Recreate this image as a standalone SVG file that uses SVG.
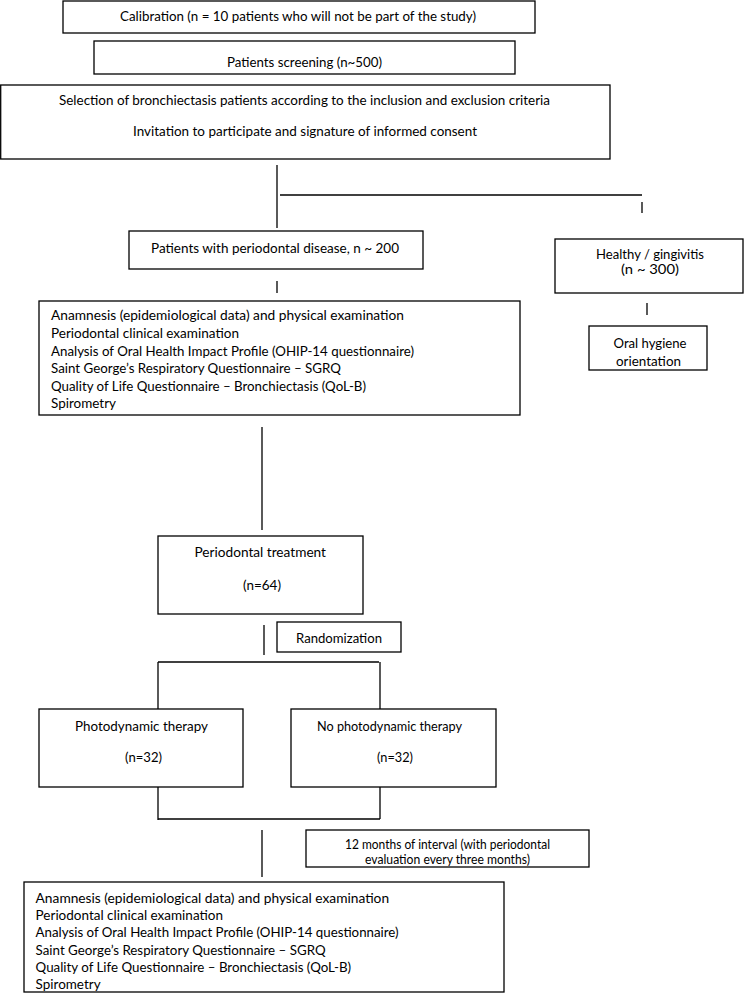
<svg xmlns="http://www.w3.org/2000/svg" width="744" height="993" viewBox="0 0 744 993">
<style>
rect{fill:#fff;stroke:#000;stroke-width:1.3}
line{stroke:#000;stroke-width:1.3}
text{font-family:Lato,"Liberation Sans",sans-serif;font-size:14px;fill:#000}
.s{font-size:12.5px}
.h{font-size:12.5px}
</style>
<rect x="0" y="0" width="744" height="993" style="stroke:none"/>
<g id="connectors">
<line x1="277" y1="165" x2="277" y2="228"/>
<line x1="280" y1="195" x2="642" y2="195"/>
<line x1="642" y1="202" x2="642" y2="213"/>
<line x1="277" y1="281" x2="277" y2="293"/>
<line x1="647" y1="303" x2="647" y2="315"/>
<line x1="262" y1="427" x2="262" y2="530"/>
<line x1="264" y1="625" x2="264" y2="655"/>
<line x1="158" y1="662" x2="379" y2="662"/>
<line x1="158" y1="662" x2="158" y2="709"/>
<line x1="380" y1="662" x2="380" y2="709"/>
<line x1="158" y1="787" x2="158" y2="820"/>
<line x1="380" y1="787" x2="380" y2="819"/>
<line x1="158" y1="819" x2="380" y2="819"/>
<line x1="262" y1="830" x2="262" y2="877"/>
</g>
<g id="calibration">
<rect x="63" y="1" width="472" height="32"/>
<text x="120" y="21" textLength="356" lengthAdjust="spacingAndGlyphs">Calibration (n = 10 patients who will not be part of the study)</text>
</g>
<g id="screening">
<rect x="94" y="41" width="421" height="33"/>
<text x="227" y="67" textLength="155" lengthAdjust="spacingAndGlyphs">Patients screening (n~500)</text>
</g>
<g id="selection">
<rect x="0.7" y="85" width="609.3" height="74"/>
<text x="59" y="105" textLength="491" lengthAdjust="spacingAndGlyphs">Selection of bronchiectasis patients according to the inclusion and exclusion criteria</text>
<text x="133" y="136" textLength="344" lengthAdjust="spacingAndGlyphs">Invitation to participate and signature of informed consent</text>
</g>
<g id="periodontal-disease">
<rect x="129" y="231" width="294" height="38"/>
<text x="151" y="253" textLength="248" lengthAdjust="spacingAndGlyphs">Patients with periodontal disease, n ~ 200</text>
</g>
<g id="healthy">
<rect x="555" y="239" width="188" height="54"/>
<text class="h" x="596" y="259" textLength="108" lengthAdjust="spacingAndGlyphs">Healthy / gingivitis</text>
<text class="h" x="621" y="274" textLength="58" lengthAdjust="spacingAndGlyphs">(n ~ 300)</text>
</g>
<g id="oral-hygiene">
<rect x="589" y="326" width="118" height="44"/>
<text x="613.5" y="348" textLength="73" lengthAdjust="spacingAndGlyphs">Oral hygiene</text>
<text x="616" y="366" textLength="65" lengthAdjust="spacingAndGlyphs">orientation</text>
</g>
<g id="baseline-exams">
<rect x="39" y="301" width="481" height="114"/>
<text x="51" y="320" textLength="353" lengthAdjust="spacingAndGlyphs">Anamnesis (epidemiological data) and  physical examination</text>
<text x="51" y="338" textLength="188" lengthAdjust="spacingAndGlyphs">Periodontal clinical examination</text>
<text x="51" y="356" textLength="363" lengthAdjust="spacingAndGlyphs">Analysis of Oral Health Impact Profile (OHIP-14 questionnaire)</text>
<text x="51" y="373" textLength="290" lengthAdjust="spacingAndGlyphs">Saint George’s Respiratory Questionnaire – SGRQ</text>
<text x="51" y="391" textLength="315" lengthAdjust="spacingAndGlyphs">Quality of Life Questionnaire – Bronchiectasis (QoL-B)</text>
<text x="51" y="408" textLength="65" lengthAdjust="spacingAndGlyphs">Spirometry</text>
</g>
<g id="treatment">
<rect x="158" y="536" width="205" height="78"/>
<text x="194.5" y="557" textLength="131.5" lengthAdjust="spacingAndGlyphs">Periodontal treatment</text>
<text x="243" y="589.5" textLength="38" lengthAdjust="spacingAndGlyphs">(n=64)</text>
</g>
<g id="randomization">
<rect x="277" y="622" width="124" height="30"/>
<text x="296" y="643" textLength="86" lengthAdjust="spacingAndGlyphs">Randomization</text>
</g>
<g id="photodynamic">
<rect x="39" y="709" width="204" height="78"/>
<text x="75" y="731" textLength="133" lengthAdjust="spacingAndGlyphs">Photodynamic therapy</text>
<text x="125" y="762" textLength="37" lengthAdjust="spacingAndGlyphs">(n=32)</text>
</g>
<g id="no-photodynamic">
<rect x="291" y="709" width="205" height="78"/>
<text x="317" y="731" textLength="145" lengthAdjust="spacingAndGlyphs">No photodynamic therapy</text>
<text x="377" y="762" textLength="36" lengthAdjust="spacingAndGlyphs">(n=32)</text>
</g>
<g id="interval">
<rect x="306" y="830" width="283" height="37"/>
<text class="s" x="345" y="848.5" textLength="205" lengthAdjust="spacingAndGlyphs">12 months of interval (with periodontal</text>
<text class="s" x="365" y="864" textLength="165" lengthAdjust="spacingAndGlyphs">evaluation every three months)</text>
</g>
<g id="final-exams">
<rect x="24" y="882" width="480" height="110"/>
<text x="35.6" y="903" textLength="353.5" lengthAdjust="spacingAndGlyphs">Anamnesis (epidemiological data) and  physical examination</text>
<text x="35.6" y="920" textLength="187.4" lengthAdjust="spacingAndGlyphs">Periodontal clinical examination</text>
<text x="35.6" y="937" textLength="363" lengthAdjust="spacingAndGlyphs">Analysis of Oral Health Impact Profile (OHIP-14 questionnaire)</text>
<text x="35.6" y="955" textLength="290" lengthAdjust="spacingAndGlyphs">Saint George’s Respiratory Questionnaire – SGRQ</text>
<text x="35.6" y="972" textLength="315.5" lengthAdjust="spacingAndGlyphs">Quality of Life Questionnaire – Bronchiectasis (QoL-B)</text>
<text x="35.6" y="989" textLength="65" lengthAdjust="spacingAndGlyphs">Spirometry</text>
</g>
</svg>
